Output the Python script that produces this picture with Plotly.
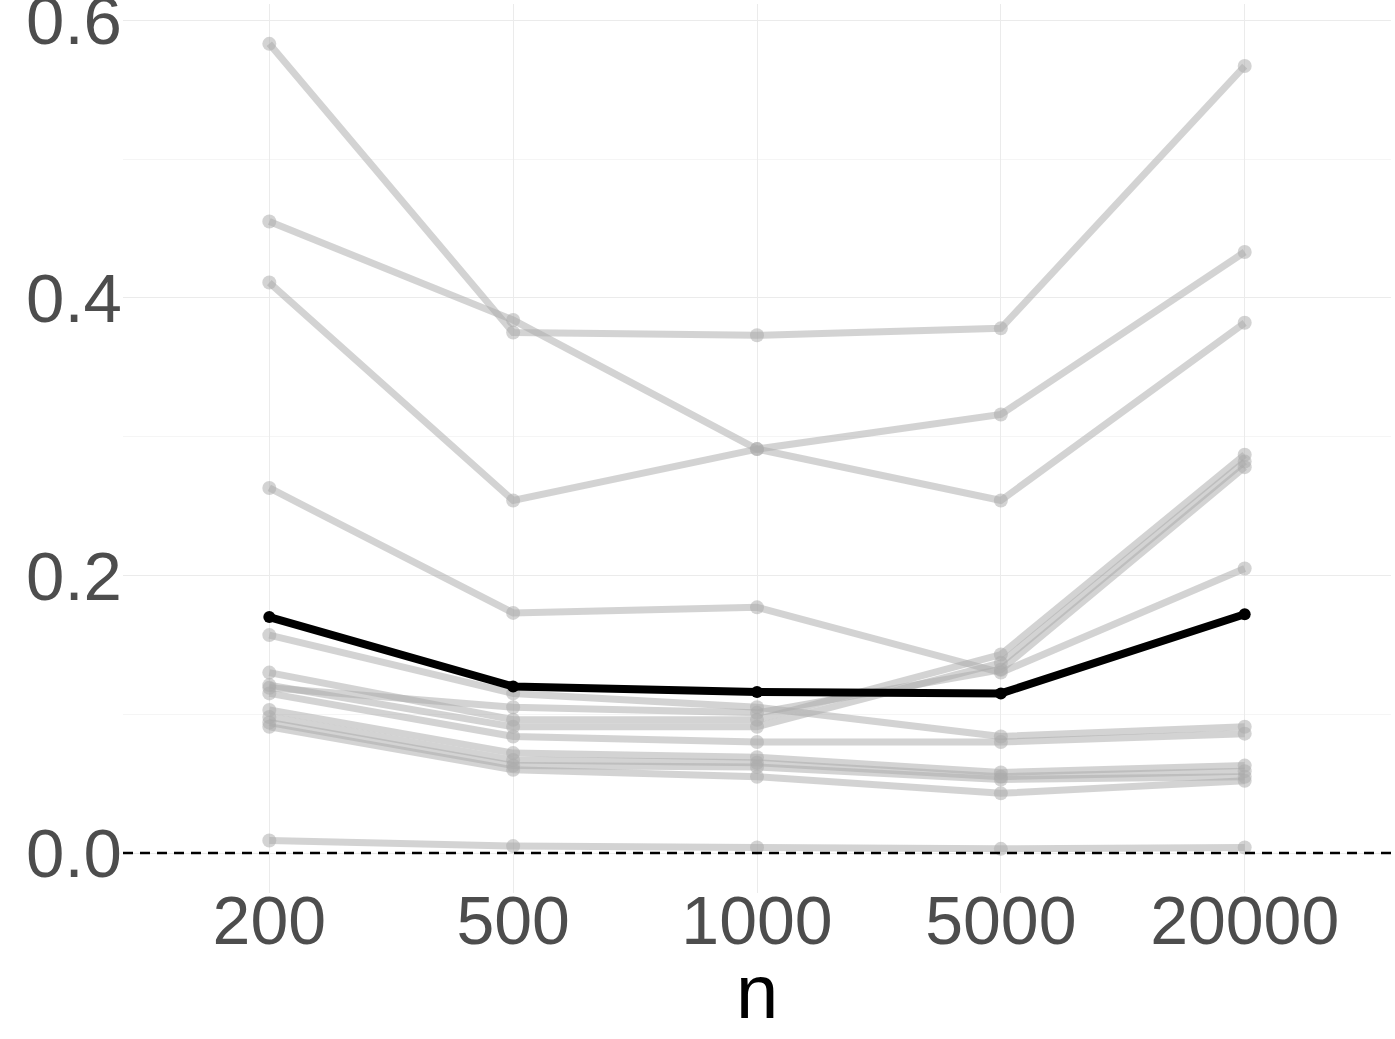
import plotly.graph_objects as go

n_labels = ["200", "500", "1000", "5000", "20000"]

gray_series = [
    [0.583, 0.375, 0.373, 0.378, 0.567],
    [0.455, 0.384, 0.291, 0.254, 0.382],
    [0.411, 0.254, 0.291, 0.316, 0.433],
    [0.263, 0.173, 0.177, 0.130, 0.205],
    [0.157, 0.115, 0.105, 0.084, 0.091],
    [0.115, 0.084, 0.080, 0.080, 0.086],
    [0.130, 0.096, 0.096, 0.143, 0.287],
    [0.121, 0.091, 0.091, 0.137, 0.282],
    [0.119, 0.105, 0.101, 0.132, 0.278],
    [0.103, 0.072, 0.069, 0.058, 0.063],
    [0.098, 0.067, 0.065, 0.055, 0.059],
    [0.094, 0.063, 0.062, 0.053, 0.055],
    [0.091, 0.060, 0.055, 0.043, 0.052],
    [0.009, 0.005, 0.004, 0.003, 0.004],
]

black_series = [0.170, 0.120, 0.116, 0.115, 0.172]

y_ticks = [0.0, 0.2, 0.4, 0.6]
y_minor = [0.1, 0.3, 0.5]

GRAY = "rgba(170,170,170,0.52)"

fig = go.Figure()
for s in gray_series:
    fig.add_trace(go.Scatter(
        x=n_labels, y=s, mode="lines+markers",
        line=dict(color=GRAY, width=7),
        marker=dict(color=GRAY, size=14),
        showlegend=False, hoverinfo="skip",
    ))

fig.add_trace(go.Scatter(
    x=n_labels, y=black_series, mode="lines+markers",
    line=dict(color="black", width=8),
    marker=dict(color="black", size=12),
    showlegend=False,
))

fig.add_shape(type="line", xref="paper", yref="y", x0=0, x1=1, y0=0, y1=0,
              line=dict(color="black", width=2.5, dash="10px,7px"), layer="above")

fig.add_annotation(text="n", xref="paper", yref="paper", x=0.5, y=-0.061,
                   xanchor="center", yanchor="top", showarrow=False,
                   font=dict(size=76, color="black"))

fig.update_layout(
    width=1395, height=1039,
    margin=dict(l=123, r=4, t=4, b=146),
    paper_bgcolor="white", plot_bgcolor="white",
    font=dict(family="Liberation Sans, Arial, sans-serif"),
    xaxis=dict(
        type="category", range=[-0.6, 4.6], automargin=False,
        showgrid=True, gridcolor="#EBEBEB", gridwidth=1.2,
        zeroline=False, showline=False, ticks="",
        tickfont=dict(size=68, color="#4D4D4D"),
        ticklabelstandoff=-18, ticklabeloverflow="allow",
    ),
    yaxis=dict(
        range=[-0.0288, 0.6117], automargin=False,
        tickvals=y_ticks, ticktext=[f"{v:.1f}" for v in y_ticks],
        showgrid=True, gridcolor="#EBEBEB", gridwidth=1.2,
        minor=dict(tickvals=y_minor, showgrid=True, gridcolor="#F5F5F5", gridwidth=1),
        zeroline=False, showline=False, ticks="",
        tickfont=dict(size=69, color="#4D4D4D"),
        ticklabeloverflow="allow",
    ),
)

fig.write_html("out.html", config={"displayModeBar": False},
               post_script="document.body.style.margin='0';")
